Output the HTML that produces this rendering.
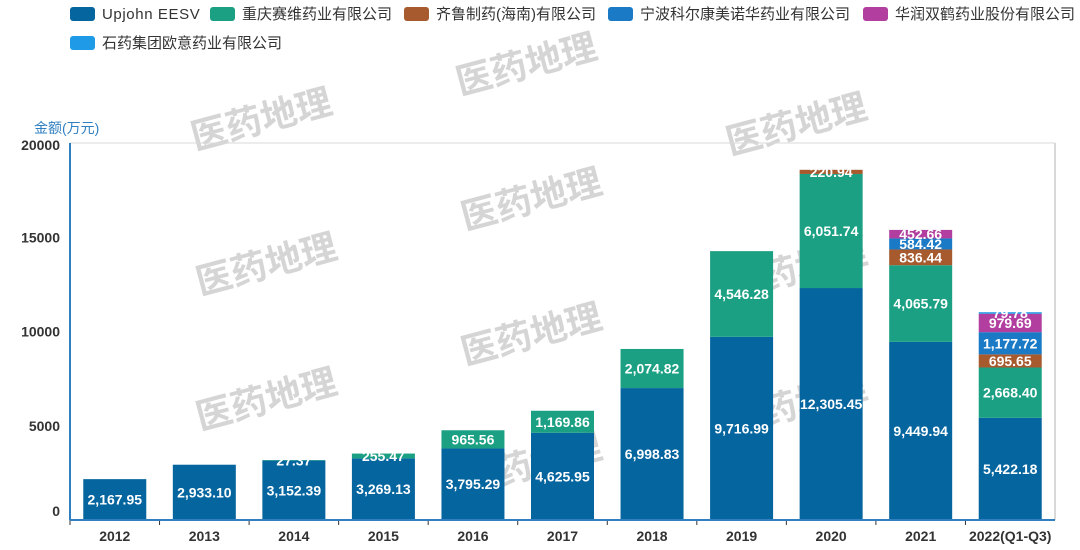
<!DOCTYPE html>
<html><head><meta charset="utf-8">
<style>
body{margin:0;background:#fff;}
svg{display:block;font-family:"Liberation Sans","Noto Sans CJK SC",sans-serif;}
</style></head>
<body>
<svg id="chart" width="1080" height="550">
  <g id="watermarks" fill="#c4c4c4" opacity="0.7" font-size="36" font-weight="bold">
    <text x="460" y="95" transform="rotate(-15 460 95)">医药地理</text>
    <text x="195" y="150" transform="rotate(-15 195 150)">医药地理</text>
    <text x="730" y="155" transform="rotate(-15 730 155)">医药地理</text>
    <text x="465" y="230" transform="rotate(-15 465 230)">医药地理</text>
    <text x="200" y="295" transform="rotate(-15 200 295)">医药地理</text>
    <text x="730" y="300" transform="rotate(-15 730 300)">医药地理</text>
    <text x="465" y="365" transform="rotate(-15 465 365)">医药地理</text>
    <text x="200" y="430" transform="rotate(-15 200 430)">医药地理</text>
    <text x="730" y="435" transform="rotate(-15 730 435)">医药地理</text>
    <text x="465" y="495" transform="rotate(-15 465 495)">医药地理</text>
  </g>
  <g id="legend"></g>
  <text x="34" y="133" font-size="14" fill="#2f7fc1">金额(万元)</text>
  <g id="plot"></g>
</svg>
<script>
const categories=["2012","2013","2014","2015","2016","2017","2018","2019","2020","2021","2022(Q1-Q3)"];
const seriesNames=["Upjohn EESV","重庆赛维药业有限公司","齐鲁制药(海南)有限公司","宁波科尔康美诺华药业有限公司","华润双鹤药业股份有限公司","石药集团欧意药业有限公司"];
const upjohn=[2167.95,2933.10,3152.39,3269.13,3795.29,4625.95,6998.83,9716.99,12305.45,9449.94,5422.18];
const chongqing=[0,0,27.37,255.47,965.56,1169.86,2074.82,4546.28,6051.74,4065.79,2668.40];
const qilu=[0,0,0,0,0,0,0,0,220.94,836.44,695.65];
const ningbo=[0,0,0,0,0,0,0,0,0,584.42,1177.72];
const huarun=[0,0,0,0,0,0,0,0,0,452.66,979.69];
const shiyao=[0,0,0,0,0,0,0,0,0,0,79.78];
const yTicks=[0,5000,10000,15000,20000];
const series=[upjohn,chongqing,qilu,ningbo,huarun,shiyao];
const colors=["#05659f","#1ba083","#a65a2e","#1b7ac6","#b23fa0","#1e9ae6"];
const NS="http://www.w3.org/2000/svg";
const L=70,R=1055,T=143,B=520,yMax=20000;
const band=(R-L)/categories.length, bw=63;
const y=v=>B-(v/yMax)*(B-T);
const xc=i=>L+band*(i+0.5);
const svg=document.getElementById('chart'), plot=document.getElementById('plot'), leg=document.getElementById('legend');
function mk(tag,attrs,parent){const e=document.createElementNS(NS,tag);for(const k in attrs)e.setAttribute(k,attrs[k]);(parent||plot).appendChild(e);return e;}
const fmt=v=>v.toLocaleString('en-US',{minimumFractionDigits:2,maximumFractionDigits:2});
let f=mk('line',{x1:L,y1:T,x2:R,y2:T,stroke:'#d9d9d9','stroke-width':1});


f=mk('line',{x1:R,y1:T,x2:R,y2:B,stroke:'#d9d9d9','stroke-width':2});


yTicks.forEach(t=>{
  const tx=mk('text',{x:60,y:y(t)+5-(t===0?9:(t===20000?-2:0)),'text-anchor':'end','font-size':14,'font-weight':'bold',fill:'#333'});
  tx.textContent=String(t);
  
  
});
const labels=[];
categories.forEach((c,i)=>{
  let acc=0;
  series.forEach((s,k)=>{
    const v=s[i]; if(!v) return;
    const y0=y(acc), y1=y(acc+v); acc+=v;
    const r=mk('rect',{x:xc(i)-bw/2,y:y1,width:bw,height:y0-y1,fill:colors[k]});
    
    
    labels.push([xc(i),(y0+y1)/2+5,fmt(v)]);
  });
  const cl=mk('text',{x:xc(i),y:541,'text-anchor':'middle','font-size':14,'font-weight':'bold',fill:'#333'});
  cl.textContent=c;
  
  
  const tk=mk('line',{x1:L+band*i,y1:B,x2:L+band*i,y2:B+5,stroke:'#333'});
  
  
});
labels.forEach(l=>{
  const t=mk('text',{x:l[0],y:l[1],'text-anchor':'middle','font-size':14,'font-weight':'bold',fill:'#fff'});
  t.textContent=l[2];
  
  
});
let ax=mk('line',{x1:L,y1:T,x2:L,y2:B,stroke:'#2f7fc1','stroke-width':2});


ax=mk('line',{x1:L,y1:B,x2:R,y2:B,stroke:'#2f7fc1','stroke-width':2});


const legPos=[[70,13],[210,13],[404,13],[608,13],[863,13],[70,42]];
seriesNames.forEach((n,k)=>{
  const g=mk('g',{},leg);
  
  
  mk('rect',{x:legPos[k][0],y:legPos[k][1]-6,width:25,height:14,rx:3,fill:colors[k]},g);
  const t=mk('text',{x:legPos[k][0]+32,y:legPos[k][1]+6,'font-size':15,fill:'#333','letter-spacing':k===0?0.6:0},g);
  t.textContent=n;
});
</script>
</body></html>
